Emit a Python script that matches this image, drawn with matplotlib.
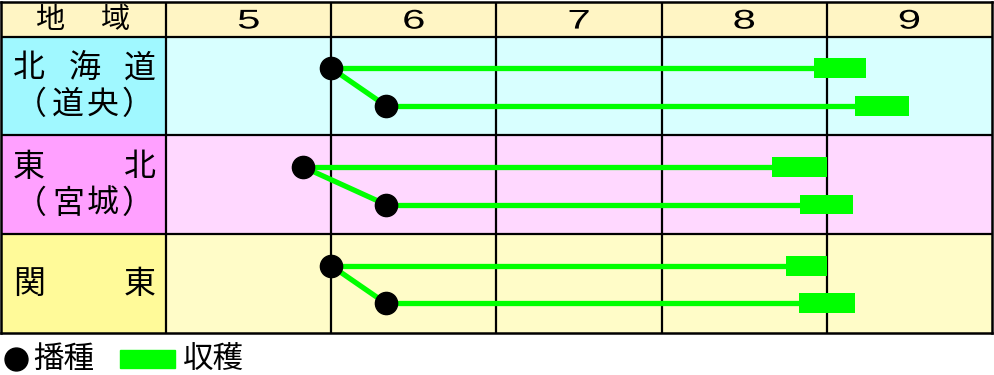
# -*- coding:utf-8 -*-
import numpy as np
import matplotlib
matplotlib.use('Agg')
import matplotlib.pyplot as plt
from matplotlib.patches import Rectangle, PathPatch
from matplotlib.textpath import TextPath
from matplotlib.font_manager import FontProperties
from matplotlib.transforms import Affine2D, ScaledTranslation

plt.rcParams['font.family'] = ['Noto Sans CJK JP', 'DejaVu Sans']

# data (x in months, 5.0 = start of May)
months = [5, 6, 7, 8, 9]
region_top = ['北海道', '東北', '関東']
region_sub = ['（道央）', '（宮城）', '']
sow = [[6.0, 6.33], [5.83, 6.33], [6.0, 6.33]]            # 播種
harvest_start = [[8.92, 9.17], [8.67, 8.84], [8.75, 8.83]]  # 収穫 begin
harvest_end = [[9.24, 9.50], [9.0, 9.16], [9.0, 9.17]]      # 収穫 end

label_colors = ['#a0f8ff', '#ffa0ff', '#fffa99']
cell_colors = ['#d8ffff', '#ffd8ff', '#fffcc8']
header_color = '#fff5c4'
green = '#00ff00'

fig = plt.figure(figsize=(9.94, 3.75), dpi=100)
ax = fig.add_axes([1 / 994, 1 - 333 / 375, 991 / 994, 331 / 375])
ax.set_xlim(4, 10)
ax.set_ylim(3, -0.35)
ax.set_xticks([])
ax.set_yticks([])
for s in ax.spines.values():
    s.set_linewidth(1.8)

PX = 991 / 6.0  # pixels per month column


def px2x(p):
    return 4 + p / PX


# backgrounds
ax.barh(-0.175, 6, left=4, height=0.35, color=header_color, zorder=0)
for i in range(3):
    ax.barh(i + 0.5, 1, left=4, height=1, color=label_colors[i], zorder=0)
    ax.barh(i + 0.5, 5, left=5, height=1, color=cell_colors[i], zorder=0)

# grid
ax.vlines(months, -0.35, 3, color='black', lw=1.6, zorder=1)
ax.hlines([0, 1, 2], 4, 10, color='black', lw=1.6, zorder=1)

# header
ax.text(px2x(49), -0.17, '地', fontsize=21, ha='center', va='center')
ax.text(px2x(115), -0.17, '域', fontsize=21, ha='center', va='center')


def wide_digit(x, y, s, size=14, sx=1.55):
    # stretched digits like the original header font
    tp = TextPath((0, 0), s, size=size, prop=FontProperties(family='Liberation Sans'))
    ext = tp.get_extents()
    cx = (ext.x0 + ext.x1) / 2
    cy = (ext.y0 + ext.y1) / 2
    k = 100 / 72 / 72
    tr = (Affine2D().translate(-cx, -cy).scale(sx * k, k)
          + fig.dpi_scale_trans + ScaledTranslation(x, y, ax.transData))
    ax.add_patch(PathPatch(tp, transform=tr, color='black', lw=0, zorder=6))


for m in months:
    wide_digit(m + 0.5, -0.175, str(m))

# region labels
sub_px = [30, 67, 102, 137]
for i in range(3):
    top = region_top[i]
    ty = i + (0.32 if region_sub[i] else 0.5)
    xs = np.linspace(28, 139, len(top))
    for x, ch in zip(xs, top):
        ax.text(px2x(x), ty, ch, fontsize=23, ha='center', va='center')
    for x, ch in zip(sub_px, region_sub[i]):
        ax.text(px2x(x), i + 0.69, ch, fontsize=23, ha='center', va='center')

# sowing / harvest marks
offsets = [0.32, 0.70]
for i in range(3):
    ys = [i + o for o in offsets]
    ax.plot(sow[i], ys, color=green, lw=3.8, zorder=3)
    for j in range(2):
        ax.plot([sow[i][j], harvest_start[i][j]], [ys[j], ys[j]],
                color=green, lw=3.8, zorder=3)
    widths = [e - s for s, e in zip(harvest_start[i], harvest_end[i])]
    ax.barh(ys, widths, left=harvest_start[i], height=0.2, color=green, zorder=4)
    ax.plot(sow[i], ys, 'o', color='black', ms=16, zorder=5)

# legend
ly = 1 - 359 / 375
fig.lines.append(plt.Line2D([16 / 994], [ly], marker='o', color='black', ms=16.5,
                            transform=fig.transFigure))
fig.text(33 / 994, ly, '播種', fontsize=22, va='center')
fig.patches.append(Rectangle((120 / 994, 1 - 368 / 375), 55 / 994, 18 / 375,
                             transform=fig.transFigure, color=green))
fig.text(183 / 994, ly, '収穫', fontsize=22, va='center')

fig.savefig('out.png', dpi=100)
